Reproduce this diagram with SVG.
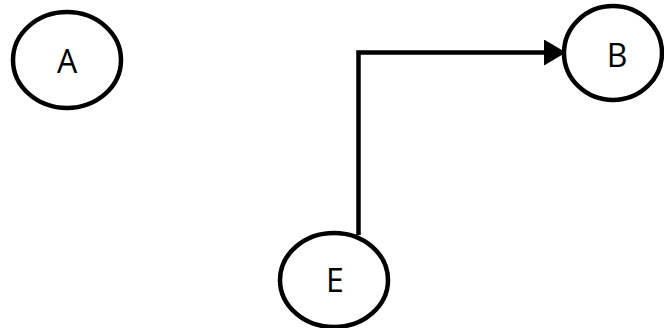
<svg xmlns="http://www.w3.org/2000/svg" width="664" height="328" viewBox="0 0 664 328">
<style>
.n ellipse{fill:#fff;stroke:#000;stroke-width:4.5}
.n text{font-family:"Open Sans","Liberation Sans",sans-serif;font-size:32px;fill:#000;text-anchor:middle;dominant-baseline:central}
.c{fill:none;stroke:#000;stroke-width:4.5}
</style>
<defs>
<marker id="ah" markerUnits="userSpaceOnUse" markerWidth="24" markerHeight="26" refX="22" refY="13" orient="auto">
<path d="M0,0 L22,13 L0,26 Z" fill="#000"/>
</marker>
</defs>
<g id="connectors">
<path class="c" d="M358.5,235 V52.5 H566" marker-end="url(#ah)"/>
</g>
<g id="A" class="n"><ellipse cx="67" cy="60" rx="54" ry="48"/><text x="67" y="60">A</text></g>
<g id="B" class="n"><ellipse cx="613" cy="53" rx="49" ry="47"/><text x="617" y="54">B</text></g>
<g id="E" class="n"><ellipse cx="334" cy="280" rx="54" ry="47"/><text x="335" y="279">E</text></g>
</svg>
